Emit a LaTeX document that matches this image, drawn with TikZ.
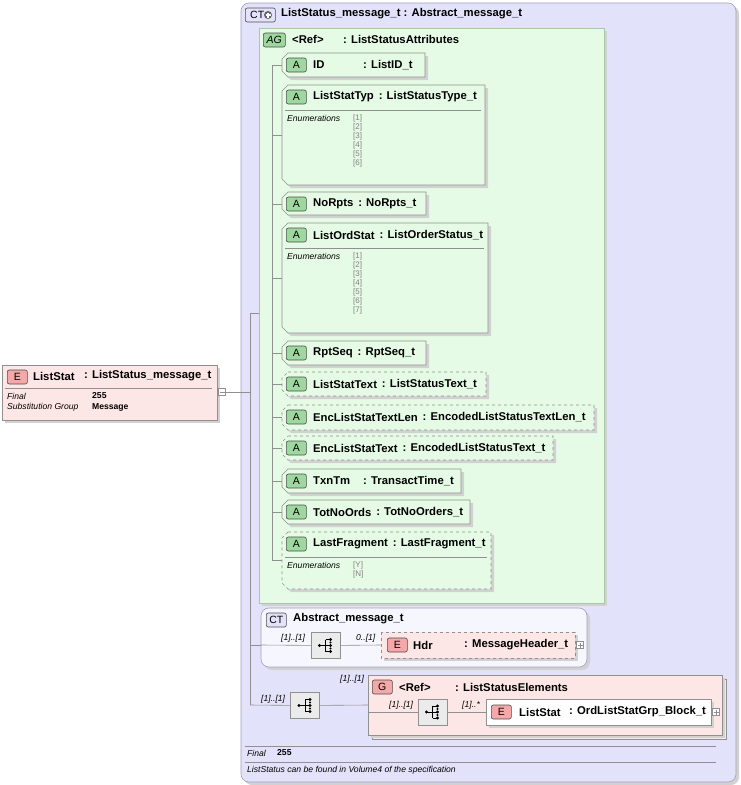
\documentclass[tikz,border=0pt]{standalone}
\usepackage{fontspec}
\setmainfont{Liberation Sans}
\definecolor{ctfill}{HTML}{E2E2FA}
\definecolor{ctline}{HTML}{A0A0C0}
\definecolor{agfill}{HTML}{E6FBE6}
\definecolor{agline}{HTML}{A8C8A8}
\definecolor{efill}{HTML}{FDE6E6}
\definecolor{ebadge}{HTML}{F5A8A8}
\definecolor{abadge}{HTML}{9ED89E}
\definecolor{gline}{HTML}{909090}
\tikzset{
 hd/.style={font=\fontsize{11.3}{12}\selectfont\bfseries, anchor=west, inner sep=0pt},
 sm/.style={font=\fontsize{8.6}{9}\selectfont\itshape, anchor=west, inner sep=0pt},
 smb/.style={font=\fontsize{8.6}{9}\selectfont\bfseries, anchor=west, inner sep=0pt},
 en/.style={font=\fontsize{8}{9}\selectfont, text=gray, anchor=west, inner sep=0pt},
 conn/.style={draw=gline, line width=0.6pt},
 badge/.style={draw=black!70, rounded corners=2pt, line width=0.6pt, minimum height=14pt, inner sep=1pt, font=\fontsize{10.5}{11}\selectfont},
 shd/.style={fill=black!18},
}
\newcommand\abox[8]{%
 \fill[shd] (285,#2+3) -- (#3+3,#2+3) -- (#3+3,#4+3) -- (291,#4+3) -- (285,#4-3) -- cycle;
 \draw[gline,fill=agfill,#5,line width=0.6pt] (288,#2) -- (#3,#2) -- (#3,#4) -- (288,#4) -- (282,#4-6) -- (282,#2+6) -- cycle;
 \node[badge,fill=abadge,minimum width=20pt,anchor=west] (#1b) at (286,#2+12) {A};
 \node[hd] (#1n) at (313,#2+12) {#6};
 \ifnum#8=0
  \node[hd] (#1t) at ([xshift=4.5pt]#1n.east) {: #7};
 \else
  \node[hd] (#1t) at (#8,#2+12) {: #7};
 \fi
 \coordinate (#1c) at (282,#2+12);
}
\newcommand\enums[3]{%
 \draw[gline,line width=0.4pt] (285,#1+25) -- (#2-4,#1+25);
 \node[sm] at (287,#1+33) {Enumerations};
 \foreach \v [count=\i from 0] in {#3} {\node[en] at (353,#1+33+9*\i) {[\v]};}
}
\newcommand\seqicon[3]{%
 \node[draw=gline,fill=black!8,minimum width=29pt,minimum height=26pt,inner sep=0pt] (#1) at (#2,#3) {};
 \fill (#2-6,#3) circle (1.6pt);
 \draw[line width=0.6pt] (#2-6,#3) -- (#2,#3) (#2,#3-6) -- (#2,#3+6) (#2,#3-6) -- (#2+5,#3-6) (#2,#3+6) -- (#2+5,#3+6) (#2,#3) -- (#2+5,#3);
 \fill (#2+5,#3-6) circle (1.6pt) (#2+5,#3) circle (1.6pt) (#2+5,#3+6) circle (1.6pt);
 \fill (#2+5,#3-3) circle (1.2pt) (#2+5,#3+3) circle (1.2pt);
}
\begin{document}
\begin{tikzpicture}[x=1pt,y=-1pt]
\useasboundingbox (0,0) rectangle (740,785);
% outer CT
\fill[shd,rounded corners=8pt] (244,6) rectangle (739,785);
\draw[ctline,fill=ctfill,rounded corners=8pt,line width=0.6pt] (241,3) rectangle (736,782);
\node[badge,fill=ctfill,minimum width=30pt,anchor=west] (ctb) at (245,15) {CT\phantom{+}};
\fill[black!60] (268,15) circle (4pt);
\draw[white,line width=1.2pt] (265.5,15) -- (270.5,15) (268,12.5) -- (268,17.5);
\node[hd] (ctt) at (281,14) {ListStatus\_message\_t : Abstract\_message\_t};
% left element
\fill[shd] (5,368) rectangle (220,423);
\draw[gline,fill=efill,line width=0.6pt] (2,365) rectangle (217,420);
\node[badge,fill=ebadge,minimum width=20pt,anchor=west] (leb) at (7,377) {E};
\node[hd] (len) at (33,376) {ListStat};
\node[hd] (let) at (84,376) {: ListStatus\_message\_t};
\draw[gline,line width=0.4pt] (5,388) -- (212,388);
\node[sm] at (7,396) {Final}; \node[smb] at (92,396) {255};
\node[sm] at (7,407) {Substitution Group}; \node[smb] at (92,407) {Message};
\node[draw=gline,fill=white,minimum size=7pt,inner sep=0pt] (lep) at (222,392) {};
\draw[gline] (219.5,392) -- (224.5,392);
% AG
\fill[shd] (262,31) rectangle (607,606);
\draw[agline,fill=agfill,line width=0.6pt] (259,28) rectangle (604,603);
\node[badge,fill=abadge,minimum width=22pt,anchor=west] (agb) at (263,40) {\textit{AG}};
\node[hd] (agn) at (292,39) {<Ref>};
\node[hd] (agt) at (343,39) {: ListStatusAttributes};
\abox{id}{53}{425}{77}{solid}{ID}{ListID\_t}{363}
\abox{lst}{85}{485}{185}{solid}{ListStatTyp}{ListStatusType\_t}{0}
\enums{85}{485}{1,2,3,4,5,6}
\abox{nr}{192}{426}{215}{solid}{NoRpts}{NoRpts\_t}{0}
\abox{los}{223}{488}{333}{solid}{ListOrdStat}{ListOrderStatus\_t}{0}
\enums{223}{488}{1,2,3,4,5,6,7}
\abox{rs}{341}{426}{365}{solid}{RptSeq}{RptSeq\_t}{0}
\abox{lt}{372}{486}{396}{dashed}{ListStatText}{ListStatusText\_t}{0}
\abox{el}{405}{594}{430}{dashed}{EncListStatTextLen}{EncodedListStatusTextLen\_t}{0}
\abox{et}{436}{553}{460}{dashed}{EncListStatText}{EncodedListStatusText\_t}{0}
\abox{tt}{469}{461}{493}{solid}{TxnTm}{TransactTime\_t}{363}
\abox{tn}{500}{470}{524}{solid}{TotNoOrds}{TotNoOrders\_t}{0}
\abox{lf}{532}{491}{589}{dashed}{LastFragment}{LastFragment\_t}{0}
\enums{532}{491}{Y,N}
\draw[conn] (272,65) -- (272,560);
\foreach \n/\y in {id/65,lst/135,nr/204,los/278,rs/353,lt/384,el/417,et/448,tt/481,tn/512,lf/560}
 \draw[conn] (272,\y) -- (282,\y);
% main connectors
\draw[conn] (lep) -- (250,392);
\draw[conn] (250,313) -- (250,705);
\draw[conn] (250,313) -- (259,313);
% Abstract CT
\fill[shd,rounded corners=8pt] (264,611) rectangle (590,670);
\draw[ctline,fill=white!70!ctfill,rounded corners=8pt,line width=0.6pt] (261,608) rectangle (587,667);
\node[badge,fill=ctfill,minimum width=20pt,anchor=west] (ct2b) at (266,620) {CT};
\node[hd] (ct2t) at (293,619) {Abstract\_message\_t};
\draw[conn] (250,645) -- (261,645);
\seqicon{s1}{325.5}{645.5}
\draw[conn] (261,645) -- (s1);
\node[sm] at (281,638) {[1]..[1]};
\fill[shd] (384,635) rectangle (578,661);
\draw[gline,fill=efill,dashed,line width=0.6pt] (381,632) rectangle (575,658);
\node[badge,fill=ebadge,minimum width=20pt,anchor=west] (hb) at (387,645) {E};
\node[hd] (hn) at (413,645) {Hdr};
\node[hd] (ht) at (464,645) {: MessageHeader\_t};
\coordinate (hc) at (381,645);
\draw[conn] (s1) -- (hc);
\node[sm] at (356,638) {0..[1]};
\node[draw=gline,fill=white,minimum size=7pt,inner sep=0pt] (hp) at (580,645) {};
\draw[gline] (577.5,645) -- (582.5,645) (580,642.5) -- (580,647.5);
% bottom sequence + group
\seqicon{s2}{305}{705.5}
\draw[conn] (250,705) -- (s2);
\node[sm] at (261,699) {[1]..[1]};
\node[sm] at (340,679) {[1]..[1]};
\draw[gline,fill=efill] (372,679) rectangle (726,739);
\fill[shd] (371,678) rectangle (725,738);
\draw[gline,fill=efill,line width=0.6pt] (368,675) rectangle (722,735);
\node[badge,fill=ebadge,minimum width=20pt,anchor=west] (gb) at (372,687) {G};
\node[hd] (gn) at (399,687) {<Ref>};
\node[hd] (gt) at (455,687) {: ListStatusElements};
\coordinate (gc) at (368,705);
\draw[conn] (s2) -- (gc);
\seqicon{s3}{432.5}{712}
\draw[conn] (368,712) -- (s3);
\node[sm] at (389,705) {[1]..[1]};
\fill[shd] (489,702) rectangle (714,728);
\draw[gline,fill=white,line width=0.6pt] (486,699) rectangle (711,725);
\node[badge,fill=ebadge,minimum width=20pt,anchor=west] (lb) at (491,712) {E};
\node[hd] (ln) at (519,712) {ListStat};
\node[hd] (lt2) at (569,712) {: OrdListStatGrp\_Block\_t};
\coordinate (lc) at (486,712);
\draw[conn] (s3) -- (lc);
\node[sm] at (462,705) {[1]..*};
\node[draw=gline,fill=white,minimum size=7pt,inner sep=0pt] (lp) at (716,712) {};
\draw[gline] (713.5,712) -- (718.5,712) (716,709.5) -- (716,714.5);
% footer
\draw[gline,line width=0.4pt] (245,746) -- (716,746) (245,762) -- (716,762);
\node[sm] at (247,753) {Final}; \node[smb] at (277,753) {255};
\node[sm] at (247,770) {ListStatus can be found in Volume4 of the specification};
\end{tikzpicture}
\end{document}
